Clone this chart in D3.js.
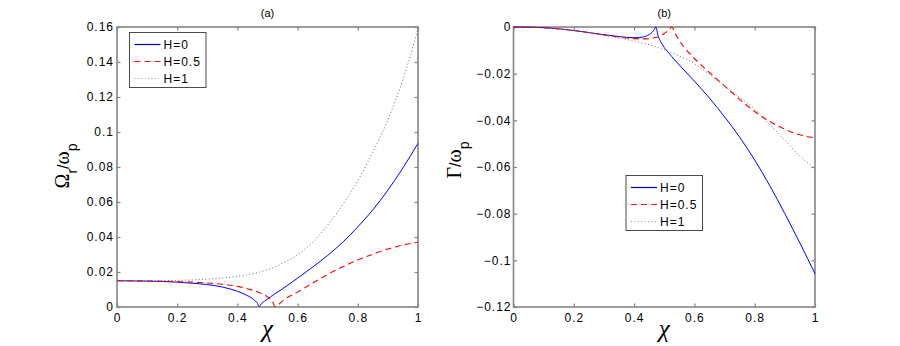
<!DOCTYPE html>
<html>
<head>
<meta charset="utf-8">
<script src="https://cdn.jsdelivr.net/npm/d3@7"></script>
<style>
  body { margin: 0; background: #fff; }
  svg text { font-family: "Liberation Sans", Arial, sans-serif; fill: #000; }
</style>
</head>
<body>
<div id="chart"></div>
<script>
// shared chi grid (extra points around the two cusps)
const chi = [0, 0.1, 0.2, 0.25, 0.3, 0.35, 0.4, 0.43, 0.45, 0.46, 0.467, 0.472, 0.48, 0.49, 0.5,
  0.51, 0.518, 0.525, 0.535, 0.55, 0.6, 0.65, 0.7, 0.75, 0.8, 0.85, 0.9, 0.95, 1.0]

// (a) Omega_r / omega_p
const omegaH0 = [0.0150, 0.0148, 0.0142, 0.0136, 0.0128, 0.0114, 0.0090, 0.0068, 0.0048, 0.0034, 0.0020, 0.0003, 0.0019, 0.0033, 0.0046,
  0.0058, 0.0068, 0.0076, 0.0087, 0.0104, 0.0165, 0.0228, 0.0295, 0.0370, 0.0458, 0.0555, 0.0668, 0.0795, 0.0935]
const omegaH05 = [0.0150, 0.0149, 0.0145, 0.0142, 0.0137, 0.0130, 0.0118, 0.0106, 0.0096, 0.0091, 0.0086, 0.0083, 0.0077, 0.0069, 0.0058,
  0.0044, 0.0026, 0.0002, 0.0012, 0.0035, 0.0085, 0.0137, 0.0186, 0.0230, 0.0268, 0.0302, 0.0331, 0.0354, 0.0370]
const omegaH1 = [0.0150, 0.0150, 0.0152, 0.0155, 0.0159, 0.0166, 0.0175, 0.0183, 0.0190, 0.0194, 0.0197, 0.0199, 0.0203, 0.0208, 0.0214,
  0.0220, 0.0225, 0.0230, 0.0237, 0.0250, 0.0298, 0.0370, 0.0468, 0.0585, 0.0722, 0.0885, 0.1070, 0.1300, 0.1590]

// (b) Gamma / omega_p
const gammaH0 = [0, -0.0003, -0.0015, -0.0024, -0.0033, -0.0041, -0.0046, -0.0043, -0.0032, -0.0022, -0.0011, 0, -0.0040, -0.0066, -0.0088,
  -0.0104, -0.0116, -0.0127, -0.0142, -0.0163, -0.0232, -0.0305, -0.0385, -0.0472, -0.0570, -0.0680, -0.0800, -0.0926, -0.1057]
const gammaH05 = [0, -0.0003, -0.0015, -0.0024, -0.0034, -0.0043, -0.0050, -0.0051, -0.0050, -0.0048, -0.0046, -0.0045, -0.0042, -0.0036, -0.0028,
  -0.0018, -0.0009, 0, -0.0025, -0.0058, -0.0135, -0.0195, -0.0252, -0.0310, -0.0362, -0.0405, -0.0438, -0.0462, -0.0475]
const gammaH1 = [0, -0.0003, -0.0015, -0.0024, -0.0035, -0.0047, -0.0060, -0.0069, -0.0076, -0.0079, -0.0082, -0.0084, -0.0088, -0.0093, -0.0098,
  -0.0103, -0.0107, -0.0111, -0.0116, -0.0124, -0.0157, -0.0203, -0.0254, -0.0302, -0.0352, -0.0418, -0.0485, -0.0553, -0.0607]

const seriesNames = ['H=0', 'H=0.5', 'H=1']
const xTicks = [0, 0.2, 0.4, 0.6, 0.8, 1]
const omegaTicks = [0, 0.02, 0.04, 0.06, 0.08, 0.1, 0.12, 0.14, 0.16]
const gammaTicks = [0, -0.02, -0.04, -0.06, -0.08, -0.1, -0.12]

let width = 900
let height = 346

let styles = [
  {color: '#0000ff', legend: '#0000b4', dash: null, w: 1},
  {color: '#ff0000', legend: '#ff1010', dash: '6,4', w: 1.1},
  {color: '#6a6a6a', legend: '#9a9a9a', dash: '1,2.4', w: 1}
]

let svg = d3.select('#chart').append('svg')
    .attr('width', width)
    .attr('height', height)

let fmt = d3.format('~g')

function panel (o) {
  let x = d3.scaleLinear().domain([0, 1]).range([o.left, o.right])
  let y = d3.scaleLinear().domain(o.domain).range([o.bottom, o.top])
  let g = svg.append('g')

  // frame
  g.append('rect')
      .attr('x', o.left).attr('y', o.top)
      .attr('width', o.right - o.left).attr('height', o.bottom - o.top)
      .attr('fill', 'none').attr('stroke', '#858585').attr('stroke-width', 1.6)

  // axes, ticks point inward on every side
  let axes = [
    {ax: d3.axisBottom(x).tickValues(xTicks).tickFormat(fmt).tickPadding(6), at: 'translate(0,' + o.bottom + ')'},
    {ax: d3.axisTop(x).tickValues(xTicks).tickFormat(''), at: 'translate(0,' + o.top + ')'},
    {ax: d3.axisLeft(y).tickValues(o.ticks).tickFormat(fmt).tickPadding(o.pad), at: 'translate(' + o.left + ',0)'},
    {ax: d3.axisRight(y).tickValues(o.ticks).tickFormat(''), at: 'translate(' + o.right + ',0)'}
  ]
  axes.forEach(a => {
    let ag = g.append('g')
        .attr('transform', a.at)
        .call(a.ax.tickSizeInner(-3.5).tickSizeOuter(0))
    ag.select('.domain').remove()
    ag.selectAll('line').attr('stroke', '#858585').attr('stroke-width', 1.2)
    ag.selectAll('text')
        .style('font-family', '"Liberation Sans", Arial, sans-serif')
        .style('font-size', '12px')
        .style('letter-spacing', '1px')
        .attr('fill', '#000')
  })

  // curves
  let line = d3.line()
      .x((d, i) => x(chi[i]))
      .y(d => y(d))
      .curve(d3.curveMonotoneX)

  o.series.forEach((s, i) => {
    g.append('path')
        .datum(s)
        .attr('d', line)
        .attr('fill', 'none')
        .attr('stroke', styles[i].color)
        .attr('stroke-width', styles[i].w)
        .attr('stroke-dasharray', styles[i].dash)
  })

  // title
  g.append('text')
      .attr('x', (o.left + o.right) / 2)
      .attr('y', 17)
      .attr('text-anchor', 'middle')
      .style('font-size', '11px')
      .text(o.title)

  // x label
  g.append('text')
      .attr('x', (o.left + o.right) / 2)
      .attr('y', 337)
      .attr('text-anchor', 'middle')
      .style('font-family', '"Liberation Serif", serif')
      .style('font-style', 'italic')
      .style('font-size', '25px')
      .text('χ')

  // y label
  let yl = g.append('text')
      .attr('transform', 'translate(' + o.ylabX + ',' + o.ylabY + ')rotate(-90)')
      .attr('text-anchor', 'middle')
  o.ylabel.forEach(p => {
    yl.append('tspan')
        .attr('dy', p.dy || 0)
        .style('font-family', p.serif ? '"Liberation Serif", "DejaVu Serif", serif' : '"Liberation Sans", Arial, sans-serif')
        .style('font-size', p.size + 'px')
        .text(p.t)
  })

  // legend
  let lg = g.append('g').attr('transform', 'translate(' + o.legX + ',' + o.legY + ')')
  lg.append('rect')
      .attr('width', 76.5).attr('height', 55)
      .attr('fill', '#fff').attr('stroke', '#4a4a4a').attr('stroke-width', 1)
  seriesNames.forEach((n, i) => {
    let ry = 12 + i * 17
    lg.append('line')
        .attr('x1', 5).attr('x2', 31)
        .attr('y1', ry).attr('y2', ry)
        .attr('stroke', styles[i].legend)
        .attr('stroke-width', 1.2)
        .attr('stroke-dasharray', styles[i].dash)
    lg.append('text')
        .attr('x', 34).attr('y', ry + 4.3)
        .style('font-size', '12px')
        .style('letter-spacing', '1px')
        .text(n)
  })
}

panel({
  left: 117, right: 418, top: 27, bottom: 307,
  domain: [0, 0.16], ticks: omegaTicks, pad: 3,
  series: [omegaH0, omegaH05, omegaH1],
  title: '(a)',
  ylabX: 69, ylabY: 166,
  ylabel: [
    {t: 'Ω', size: 20, serif: true},
    {t: 'r', size: 14, dy: 8},
    {t: '/', size: 16, dy: -8},
    {t: 'ω', size: 20, serif: true},
    {t: 'p', size: 14, dy: 8}
  ],
  legX: 129.5, legY: 32.5
})

panel({
  left: 513.5, right: 815, top: 27, bottom: 307,
  domain: [-0.12, 0], ticks: gammaTicks, pad: 2,
  series: [gammaH0, gammaH05, gammaH1],
  title: '(b)',
  ylabX: 461, ylabY: 160,
  ylabel: [
    {t: 'Γ', size: 20, serif: true},
    {t: '/', size: 16},
    {t: 'ω', size: 20, serif: true},
    {t: 'p', size: 14, dy: 8}
  ],
  legX: 626, legY: 175.5
})
</script>
</body>
</html>
